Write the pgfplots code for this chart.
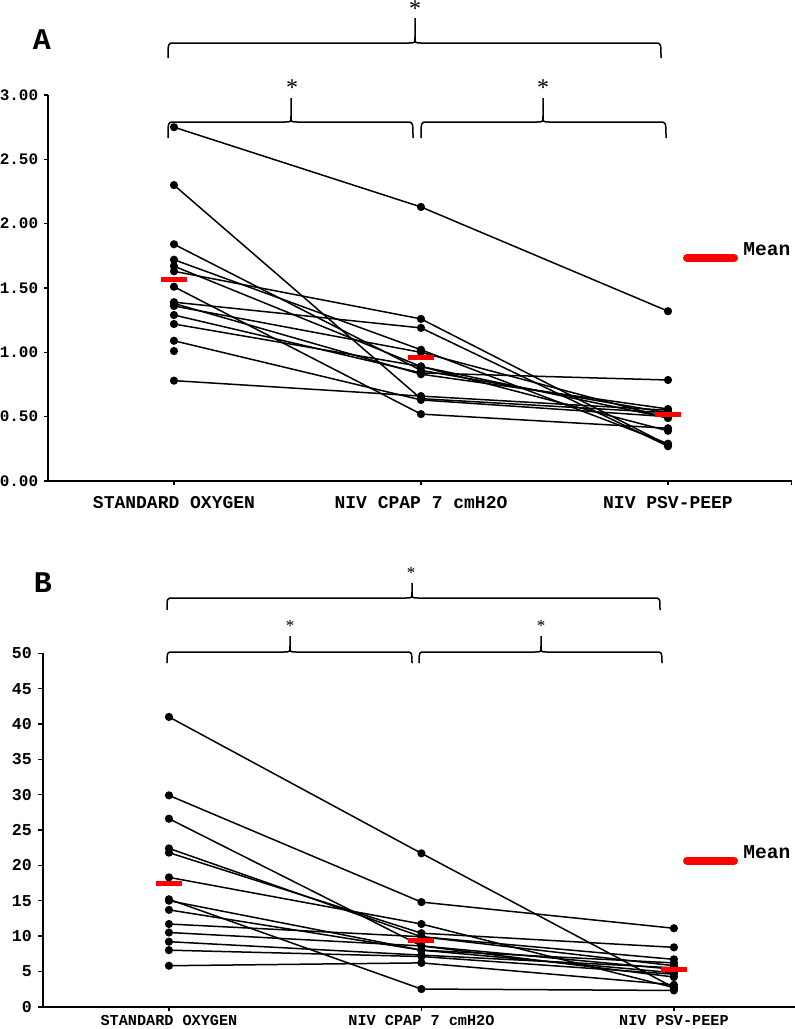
\documentclass[border=0pt]{standalone}
\usepackage{pgfplots}
\pgfplotsset{compat=1.18}
\usepackage{fontspec}
\setmainfont{Liberation Serif}
\setmonofont{Liberation Mono}
\newfontfamily\cour{Liberation Mono}
\newfontfamily\tms{Liberation Serif}
\newcommand\mybrace[6]{%
 \draw[line width=0.75pt] ({#1},{#5}) .. controls ({#1},{#4}) .. ({#1+6},{#4}) -- ({#3-6},{#4}) .. controls ({#3},{#4}) .. ({#3},{#4-6}) -- ({#3},{#6});
 \draw[line width=0.75pt] ({#3},{#4-6}) .. controls ({#3},{#4}) .. ({#3+6},{#4}) -- ({#2-6},{#4}) .. controls ({#2},{#4}) .. ({#2},{#5});}
\pgfplotsset{
 panel/.style={scale only axis, clip=false, anchor=south west,
   axis lines=left, axis line style={-, line width=0.8pt},
   tick align=outside, major tick length=2.2pt,
   tick style={black, line width=0.8pt},
   xtick={1,2,3},
   xticklabels={STANDARD OXYGEN, NIV CPAP 7 cmH2O, NIV PSV-PEEP},
   /pgf/number format/assume math mode=true},
 subj/.style={black, line width=0.75pt, mark=*, mark size=1.65pt, mark options={solid}},
 meanst/.style={red, only marks, mark=-, mark size=6.5pt, mark options={line width=2.5pt}},
}
\begin{document}
\begin{tikzpicture}
\useasboundingbox (0,0) rectangle (397.5pt,-514.5pt);
% ---------------- Panel A ----------------
\begin{axis}[panel, at={(24pt,-240.5pt)}, width=371.75pt, height=193pt,
  xmin=0.49, xmax=3.5, ymin=0, ymax=3,
  ytick={0,0.5,1,1.5,2,2.5,3},
  extra x ticks={3.5}, extra x tick labels={},
  yticklabel style={font=\cour\bfseries\fontsize{8}{8}\selectfont, inner sep=0pt, xshift=-2.5pt,
    /pgf/number format/.cd, fixed, fixed zerofill, precision=2},
  xticklabel style={font=\cour\bfseries\fontsize{9}{9}\selectfont, inner sep=0pt, anchor=north, yshift=-5.5pt}]
\addplot[subj] coordinates {(1,2.75)(2,2.13)(3,1.32)};
\addplot[subj] coordinates {(1,2.30)(2,0.64)(3,0.53)};
\addplot[subj] coordinates {(1,1.84)(2,0.86)(3,0.53)};
\addplot[subj] coordinates {(1,1.72)(2,1.02)(3,0.29)};
\addplot[subj] coordinates {(1,1.67)(2,0.89)(3,0.39)};
\addplot[subj] coordinates {(1,1.63)(2,1.26)(3,0.28)};
\addplot[subj] coordinates {(1,1.51)(2,0.52)(3,0.41)};
\addplot[subj] coordinates {(1,1.39)(2,1.19)(3,0.27)};
\addplot[subj] coordinates {(1,1.38)(2,0.83)(3,0.56)};
\addplot[subj] coordinates {(1,1.36)(2,1.00)(3,0.49)};
\addplot[subj] coordinates {(1,1.29)(2,0.84)(3,0.785)};
\addplot[subj] coordinates {(1,1.22)(2,0.89)(3,0.49)};
\addplot[subj] coordinates {(1,1.09)(2,0.63)(3,0.50)};
\addplot[subj] coordinates {(1,0.78)(2,0.66)(3,0.55)};
\addplot[subj] coordinates {(1,1.01)};
\addplot[meanst] coordinates {(1,1.57)(2,0.96)(3,0.52)};
\end{axis}
% ---------------- Panel B ----------------
\begin{axis}[panel, at={(21.35pt,-503.35pt)}, width=376.2pt, height=176.7pt,
  xmin=0.5, xmax=3.48, ymin=0, ymax=50,
  ytick={0,5,10,15,20,25,30,35,40,45,50},
  yticklabel style={font=\cour\bfseries\fontsize{8.3}{8.3}\selectfont, inner sep=0pt, xshift=-3pt},
  xticklabel style={font=\cour\bfseries\fontsize{7.6}{7.6}\selectfont, inner sep=0pt, anchor=north, yshift=-2pt}]
\addplot[subj] coordinates {(1,41.0)(2,21.7)(3,2.7)};
\addplot[subj] coordinates {(1,29.9)(2,14.8)(3,11.1)};
\addplot[subj] coordinates {(1,26.6)(2,8.6)(3,5.3)};
\addplot[subj] coordinates {(1,22.4)(2,9.9)(3,6.7)};
\addplot[subj] coordinates {(1,21.8)(2,10.4)(3,8.4)};
\addplot[subj] coordinates {(1,18.3)(2,11.7)(3,2.7)};
\addplot[subj] coordinates {(1,15.2)(2,2.5)(3,2.3)};
\addplot[subj] coordinates {(1,15.0)(2,8.0)(3,6.2)};
\addplot[subj] coordinates {(1,13.7)(2,8.0)(3,4.8)};
\addplot[subj] coordinates {(1,11.7)(2,9.9)(3,5.8)};
\addplot[subj] coordinates {(1,10.5)(2,8.6)(3,4.2)};
\addplot[subj] coordinates {(1,9.2)(2,7.3)(3,5.5)};
\addplot[subj] coordinates {(1,8.0)(2,7.1)(3,4.6)};
\addplot[subj] coordinates {(1,5.8)(2,6.2)(3,3.1)};
\addplot[meanst] coordinates {(1,17.5)(2,9.4)(3,5.3)};
\end{axis}
% ---------------- annotations (pixel coordinates) ----------------
\begin{scope}[x=0.5pt, y=-0.5pt]
 \node[font=\cour\bfseries\fontsize{15}{15}\selectfont, inner sep=0pt] at (42,40) {A};
 \node[font=\cour\bfseries\fontsize{15}{15}\selectfont, inner sep=0pt] at (43,583) {B};
 % panel A braces
 \mybrace{168}{661}{415}{43}{58}{18}
 \mybrace{168}{413}{291}{122}{138}{98}
 \mybrace{421}{666}{543}{122}{138}{98}
 \node[font=\tms\fontsize{12}{12}\selectfont, inner sep=0pt, anchor=north] at (415,0) {*};
 \node[font=\tms\fontsize{12}{12}\selectfont, inner sep=0pt, anchor=north] at (292,79) {*};
 \node[font=\tms\fontsize{12}{12}\selectfont, inner sep=0pt, anchor=north] at (543,79) {*};
 % panel B braces
 \mybrace{167}{660}{412}{598}{610}{583}
 \mybrace{167}{412}{290}{652}{663}{636}
 \mybrace{419}{662}{541}{652}{663}{636}
 \node[font=\tms\fontsize{8.5}{8.5}\selectfont, inner sep=0pt, anchor=north] at (411,567) {*};
 \node[font=\tms\fontsize{8.5}{8.5}\selectfont, inner sep=0pt, anchor=north] at (290,620) {*};
 \node[font=\tms\fontsize{8.5}{8.5}\selectfont, inner sep=0pt, anchor=north] at (541,620) {*};
 % legends
 \draw[red, line width=4pt, line cap=round] (687,258) -- (734,258);
 \node[font=\cour\bfseries\fontsize{9.8}{9.8}\selectfont, inner sep=0pt, anchor=west] at (743,249) {Mean};
 \draw[red, line width=4pt, line cap=round] (687,860.5) -- (734,860.5);
 \node[font=\cour\bfseries\fontsize{9.8}{9.8}\selectfont, inner sep=0pt, anchor=west] at (743,852) {Mean};
\end{scope}
\end{tikzpicture}
\end{document}
